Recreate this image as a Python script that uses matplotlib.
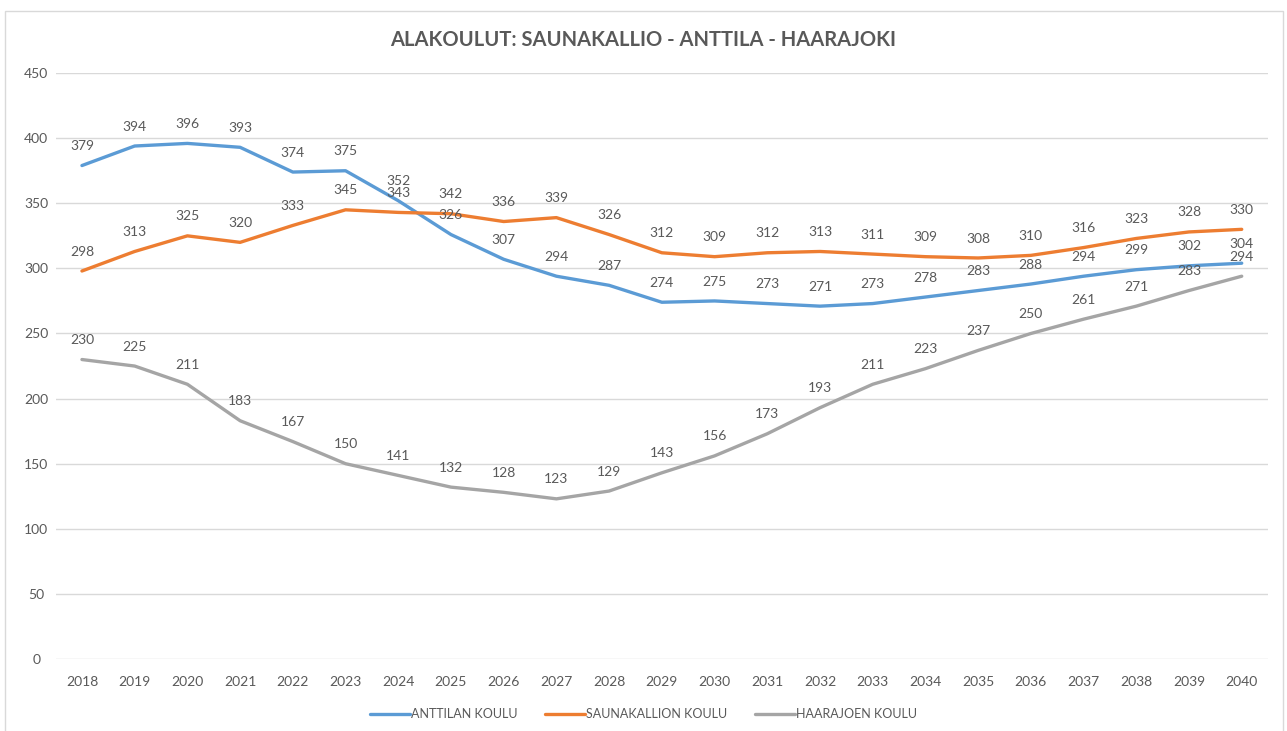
import matplotlib
matplotlib.use("Agg")
import matplotlib.pyplot as plt
from matplotlib.patches import Rectangle

years = [str(y) for y in range(2018, 2041)]
anttila = [379, 394, 396, 393, 374, 375, 352, 326, 307, 294, 287, 274, 275, 273, 271, 273, 278, 283, 288, 294, 299, 302, 304]
saunakallio = [298, 313, 325, 320, 333, 345, 343, 342, 336, 339, 326, 312, 309, 312, 313, 311, 309, 308, 310, 316, 323, 328, 330]
haarajoki = [230, 225, 211, 183, 167, 150, 141, 132, 128, 123, 129, 143, 156, 173, 193, 211, 223, 237, 250, 261, 271, 283, 294]
series_names = ["ANTTILAN KOULU", "SAUNAKALLION KOULU", "HAARAJOEN KOULU"]
yticks = [0, 50, 100, 150, 200, 250, 300, 350, 400, 450]
title = "ALAKOULUT: SAUNAKALLIO - ANTTILA - HAARAJOKI"

colors = ["#5B9BD5", "#ED7D31", "#A5A5A5"]
txt = "#595959"
plt.rcParams['font.family'] = ['Lato', 'DejaVu Sans']

fig = plt.figure(figsize=(12.87, 7.31), dpi=100)
fig.patches.append(Rectangle((5/1287, -0.01), (1283-5)/1287, (731-11)/731 + 0.01,
                             transform=fig.transFigure, fill=False,
                             edgecolor="#D9D9D9", linewidth=1.0))
ax = fig.add_axes([0.0432, 0.0985, 0.9421, 0.8015])

x = list(range(len(years)))
for vals, c, name in zip([anttila, saunakallio, haarajoki], colors, series_names):
    ax.plot(x, vals, color=c, linewidth=2.4, label=name, solid_capstyle='round')
    for xi, v in zip(x, vals):
        ax.annotate(str(v), (xi, v), xytext=(0, 14), textcoords="offset points",
                    ha="center", va="center", fontsize=10, color=txt)

ax.set_xlim(-0.5, len(years) - 0.5)
ax.set_ylim(0, 450)
ax.set_yticks(yticks)
ax.set_xticks(x)
ax.set_xticklabels(years)
ax.tick_params(axis='both', length=0, labelsize=10, colors=txt)
ax.tick_params(axis='y', pad=14)
ax.tick_params(axis='x', pad=12)
for lab in ax.get_yticklabels():
    lab.set_horizontalalignment('center')
ax.grid(axis='y', color="#D9D9D9", linewidth=1.0)
ax.set_axisbelow(True)
for s in ax.spines.values():
    s.set_visible(False)

fig.text(0.5, 1 - 40/731, title, ha="center", va="center", fontsize=14.5,
         fontweight="bold", color=txt)

leg = fig.legend(loc="center", bbox_to_anchor=(0.5, 1 - 714/731), ncol=3, frameon=False,
                 fontsize=9, handlelength=3.2, handletextpad=0.1, columnspacing=2.2,
                 labelcolor=txt)

fig.savefig("out.png", dpi=100)
